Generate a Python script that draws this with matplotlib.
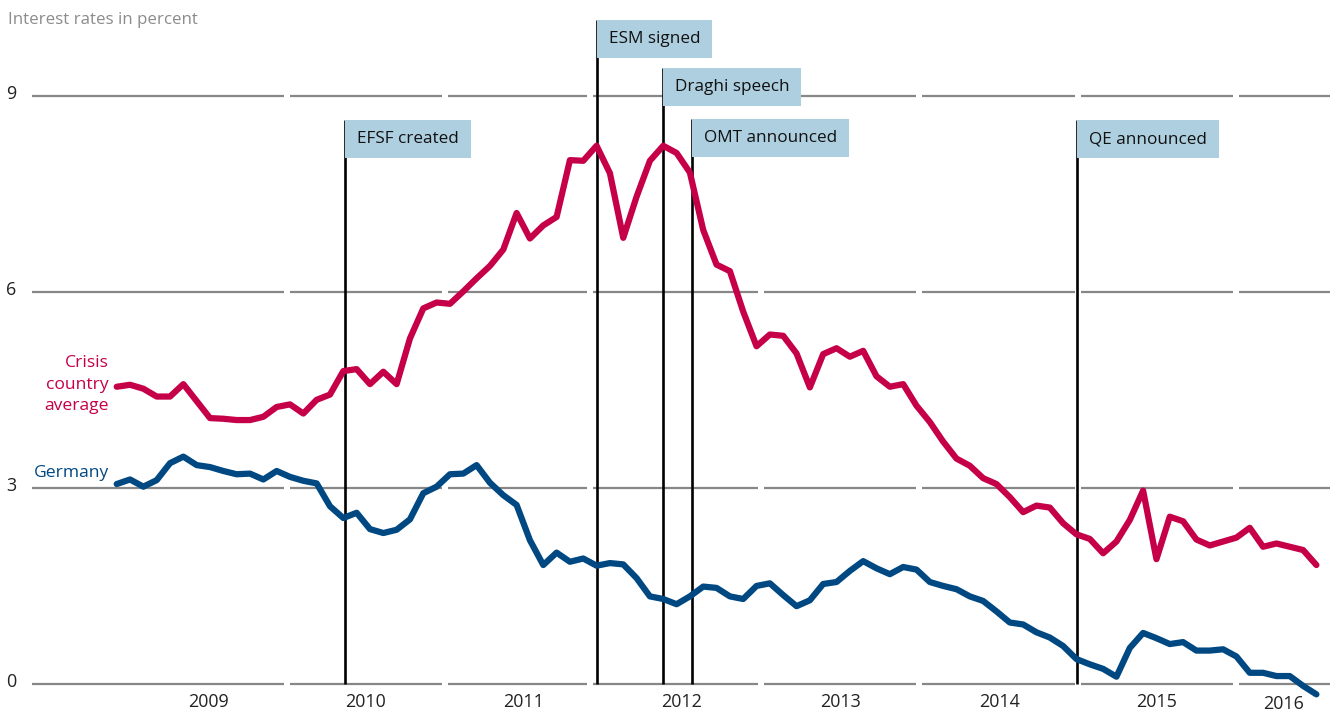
import numpy as np
import matplotlib.pyplot as plt
from matplotlib.patches import Rectangle

plt.rcParams['font.family'] = ['Open Sans', 'DejaVu Sans']

# monthly observations, Jan 2009 .. Jul 2016 (index 0 = Jan 2009)
months = np.arange(91)
crisis = [4.55, 4.58, 4.52, 4.40, 4.40, 4.59, 4.33, 4.07, 4.06, 4.04,
          4.04, 4.09, 4.24, 4.28, 4.14, 4.35, 4.43, 4.79, 4.82, 4.59,
          4.78, 4.59, 5.29, 5.75, 5.84, 5.82, 6.01, 6.21, 6.40, 6.65,
          7.21, 6.82, 7.02, 7.15, 8.02, 8.01, 8.24, 7.82, 6.83, 7.46,
          8.01, 8.24, 8.13, 7.83, 6.95, 6.42, 6.32, 5.70, 5.17, 5.35,
          5.33, 5.06, 4.54, 5.05, 5.14, 5.01, 5.10, 4.71, 4.55, 4.59,
          4.26, 4.01, 3.71, 3.45, 3.34, 3.15, 3.06, 2.86, 2.63, 2.73,
          2.70, 2.46, 2.29, 2.22, 2.00, 2.18, 2.51, 2.96, 1.91, 2.56,
          2.49, 2.21, 2.12, 2.18, 2.24, 2.39, 2.10, 2.15, 2.10, 2.05, 1.82]
germany = [3.06, 3.13, 3.02, 3.12, 3.38, 3.48, 3.35, 3.32, 3.26, 3.21,
           3.22, 3.13, 3.26, 3.17, 3.11, 3.07, 2.72, 2.54, 2.62, 2.37,
           2.31, 2.36, 2.52, 2.92, 3.02, 3.21, 3.22, 3.35, 3.08, 2.89,
           2.74, 2.20, 1.82, 2.01, 1.87, 1.92, 1.81, 1.85, 1.83, 1.62,
           1.34, 1.30, 1.22, 1.34, 1.49, 1.47, 1.34, 1.30, 1.50, 1.54,
           1.36, 1.19, 1.28, 1.53, 1.56, 1.73, 1.88, 1.77, 1.68, 1.79,
           1.75, 1.56, 1.50, 1.45, 1.34, 1.27, 1.11, 0.94, 0.91, 0.79,
           0.71, 0.58, 0.38, 0.30, 0.23, 0.11, 0.55, 0.78, 0.70, 0.61,
           0.64, 0.51, 0.51, 0.53, 0.42, 0.17, 0.17, 0.12, 0.12, -0.03, -0.16]

years = ['2009', '2010', '2011', '2012', '2013', '2014', '2015', '2016']
year_pos = [6.85, 18.7, 30.5, 42.4, 54.3, 66.2, 78.0, 87.5]
grid_breaks = [-6.35, 12.78, 24.65, 35.51, 48.31, 60.19, 72.12, 83.97, 91.02]
yticks = [0, 3, 6, 9]

events = ['EFSF created', 'ESM signed', 'Draghi speech', 'OMT announced', 'QE announced']
event_x = [17.13, 36.0, 40.96, 43.13, 72.02]
event_top = [8.63, 10.165, 9.43, 8.65, 8.63]
box_h = 0.58

red = '#C50048'
blue = '#004882'
box_col = '#AECFE0'
grid_col = '#878787'

fig = plt.figure(figsize=(13.36, 7.14), dpi=100)
ax = fig.add_axes([0, 0, 1, 1])
ax.set_xlim(-8.755, 91.47)
ax.set_ylim(-0.461, 10.472)
ax.axis('off')

mpp = (91.47 + 8.755) / 1336  # months per pixel
gap = 3 * mpp

# broken horizontal gridlines
for y in yticks:
    for k in range(len(grid_breaks) - 1):
        a = grid_breaks[k] + (gap if k > 0 else 0)
        b = grid_breaks[k + 1] - (gap if k < len(grid_breaks) - 2 else 0)
        ax.plot([a, b], [y, y], color=grid_col, lw=1.6, zorder=1, solid_capstyle='butt')
    ax.text(-8.755 + 11 * mpp, y + 0.03, str(y), ha='center', va='center',
            fontsize=13, color='#222222')

for lab, xp in zip(years, year_pos):
    yy = -0.28 if lab != '2016' else -0.31
    ax.text(xp, yy, lab, ha='center', va='center', fontsize=12.9, color='#222222')

# event lines
for x, top in zip(event_x, event_top):
    ax.plot([x, x], [0, top], color='black', lw=1.9, zorder=2, solid_capstyle='butt')

ax.plot(months, crisis, color=red, lw=4.5, zorder=3,
        solid_joinstyle='round', solid_capstyle='round')
ax.plot(months, germany, color=blue, lw=4.5, zorder=3,
        solid_joinstyle='round', solid_capstyle='round')

# event labels with boxes
texts = []
for lab, x, top in zip(events, event_x, event_top):
    t = ax.text(x + 12 * mpp, top - box_h / 2, lab, ha='left', va='center',
                fontsize=12.3, color='#111111', zorder=5)
    texts.append(t)

fig.canvas.draw()
r = fig.canvas.get_renderer()
for t, x, top in zip(texts, event_x, event_top):
    bb = t.get_window_extent(renderer=r)
    right = ax.transData.inverted().transform((bb.x1, 0))[0] + 12 * mpp
    ax.add_patch(Rectangle((x, top - box_h), right - x, box_h,
                           facecolor=box_col, edgecolor='none', zorder=4))

# series labels
ax.text(-0.58, 4.58, 'Crisis\ncountry\naverage', ha='right', va='center',
        multialignment='right', fontsize=12.6, color=red, linespacing=1.45)
ax.text(-0.58, 3.23, 'Germany', ha='right', va='center', fontsize=12.6, color=blue)

ax.text(-8.755 + 8 * mpp, 10.17, 'Interest rates in percent', ha='left', va='center',
        fontsize=12.2, color='#8C8C8C')

fig.savefig('out.png', dpi=100)
